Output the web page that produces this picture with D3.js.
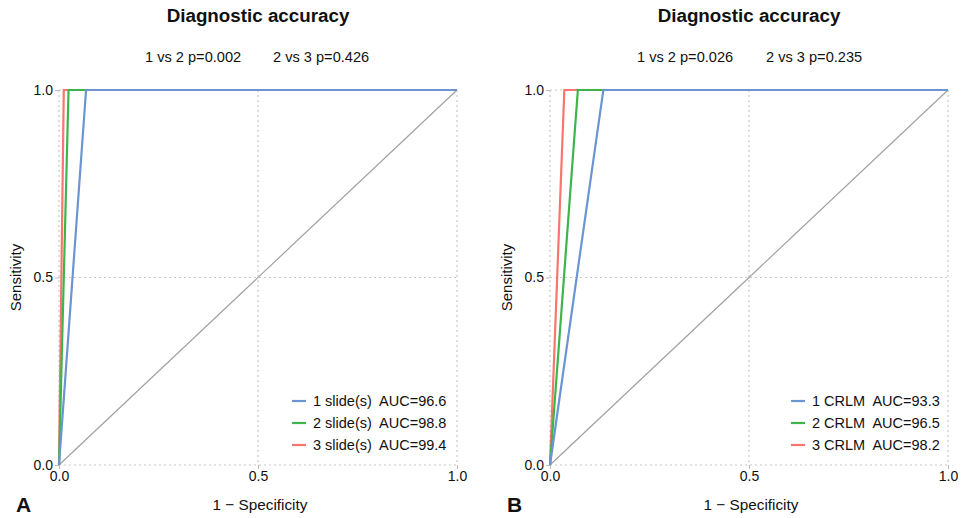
<!DOCTYPE html>
<html><head><meta charset="utf-8">
<script src="https://cdn.jsdelivr.net/npm/d3@7"></script>
<style>body{margin:0;background:#fff}svg{font-family:"Liberation Sans",Arial,sans-serif}text{white-space:pre}</style>
</head><body><svg id="c" width="968" height="518"></svg>
<script>
// Data
const panelLetters = ["A", "B"];
const titles = ["Diagnostic accuracy", "Diagnostic accuracy"];
const pvalsA = ["1 vs 2 p=0.002", "2 vs 3 p=0.426"];
const pvalsB = ["1 vs 2 p=0.026", "2 vs 3 p=0.235"];
const seriesLabelsA = ["1 slide(s)  AUC=96.6", "2 slide(s)  AUC=98.8", "3 slide(s)  AUC=99.4"];
const seriesLabelsB = ["1 CRLM  AUC=93.3", "2 CRLM  AUC=96.5", "3 CRLM  AUC=98.2"];
// ROC points: [1-specificity, sensitivity]
const rocA1 = [[0, 0], [0.068, 1], [1, 1]];
const rocA2 = [[0, 0], [0.024, 1], [1, 1]];
const rocA3 = [[0, 0], [0.012, 1], [1, 1]];
const rocB1 = [[0, 0], [0.134, 1], [1, 1]];
const rocB2 = [[0, 0], [0.070, 1], [1, 1]];
const rocB3 = [[0, 0], [0.036, 1], [1, 1]];
const ticks = [0, 0.5, 1];
const tickLabels = ["0.0", "0.5", "1.0"];
const colors = ["#6b95d0", "#3db54a", "#f8766d"];

const svg = d3.select("#c");
const panels = [
  {x0: 59, letter: panelLetters[0], title: titles[0], pv: pvalsA, labels: seriesLabelsA, series: [rocA1, rocA2, rocA3], pvx: [145, 273], legX: 292},
  {x0: 550, letter: panelLetters[1], title: titles[1], pv: pvalsB, labels: seriesLabelsB, series: [rocB1, rocB2, rocB3], pvx: [637, 766], legX: 791}
];
const W = 398, yTop = 90, yBot = 465;

panels.forEach(p => {
  const x = d3.scaleLinear().domain([0, 1]).range([p.x0, p.x0 + W]);
  const y = d3.scaleLinear().domain([0, 1]).range([yBot, yTop]);
  const g = svg.append("g");
  // grid
  ticks.forEach(t => {
    g.append("line").attr("x1", x(t)).attr("x2", x(t)).attr("y1", yTop).attr("y2", yBot)
      .attr("stroke", "#c8c8c8").attr("stroke-width", 1.2).attr("stroke-dasharray", "2,3");
    g.append("line").attr("y1", y(t)).attr("y2", y(t)).attr("x1", p.x0).attr("x2", p.x0 + W)
      .attr("stroke", "#c8c8c8").attr("stroke-width", 1.2).attr("stroke-dasharray", "2,3");
  });
  // axes
  const ax = d3.axisBottom(x).tickValues(ticks).tickFormat((d, i) => tickLabels[i]).tickSize(4).tickPadding(2);
  const ay = d3.axisLeft(y).tickValues(ticks).tickFormat((d, i) => tickLabels[i]).tickSize(4).tickPadding(2);
  const gx = g.append("g").attr("transform", `translate(0,${yBot})`).call(ax);
  const gy = g.append("g").attr("transform", `translate(${p.x0},0)`).call(ay);
  [gx, gy].forEach(a => {
    a.select(".domain").remove();
    a.selectAll(".tick line").attr("stroke", "#bbb");
    a.selectAll(".tick text").attr("fill", "#111").style("font-size", "14px").style("font-family", "Liberation Sans, Arial, sans-serif");
  });
  // diagonal
  g.append("line").attr("x1", x(0)).attr("y1", y(0)).attr("x2", x(1)).attr("y2", y(1))
    .attr("stroke", "#a0a0a0").attr("stroke-width", 1.2);
  // curves (drawn 3, 2, 1 so series 1 is on top)
  const line = d3.line().x(d => x(d[0])).y(d => y(d[1]));
  [2, 1, 0].forEach(i => {
    g.append("path").datum(p.series[i]).attr("d", line).attr("fill", "none")
      .attr("stroke", colors[i]).attr("stroke-width", 2.2);
  });
  // titles
  g.append("text").attr("x", x(0.5)).attr("y", 22).attr("text-anchor", "middle")
    .style("font-size", "18.8px").style("font-weight", "bold").attr("fill", "#111").text(p.title);
  p.pv.forEach((t, i) => {
    g.append("text").attr("x", p.pvx[i]).attr("y", 62).style("font-size", "14.6px").attr("fill", "#111").text(t);
  });
  // axis labels
  g.append("text").attr("x", x(0.5) + 2).attr("y", 510).attr("text-anchor", "middle")
    .style("font-size", "15.3px").attr("fill", "#111").text("1 \u2212 Specificity");
  g.append("text").attr("transform", `translate(${p.x0 - 38},${y(0.5)}) rotate(-90)`).attr("text-anchor", "middle")
    .style("font-size", "15px").attr("fill", "#111").text("Sensitivity");
  g.append("text").attr("x", p.x0 - 43).attr("y", 512).style("font-size", "21px").style("font-weight", "bold")
    .attr("fill", "#111").text(p.letter);
  // legend
  p.labels.forEach((t, i) => {
    const ly = 401 + i * 22;
    g.append("line").attr("x1", p.legX).attr("x2", p.legX + 14).attr("y1", ly).attr("y2", ly)
      .attr("stroke", colors[i]).attr("stroke-width", 2.2);
    g.append("text").attr("x", p.legX + 21).attr("y", ly + 5).style("font-size", "14.5px").attr("fill", "#111").text(t);
  });
});
</script></body></html>
